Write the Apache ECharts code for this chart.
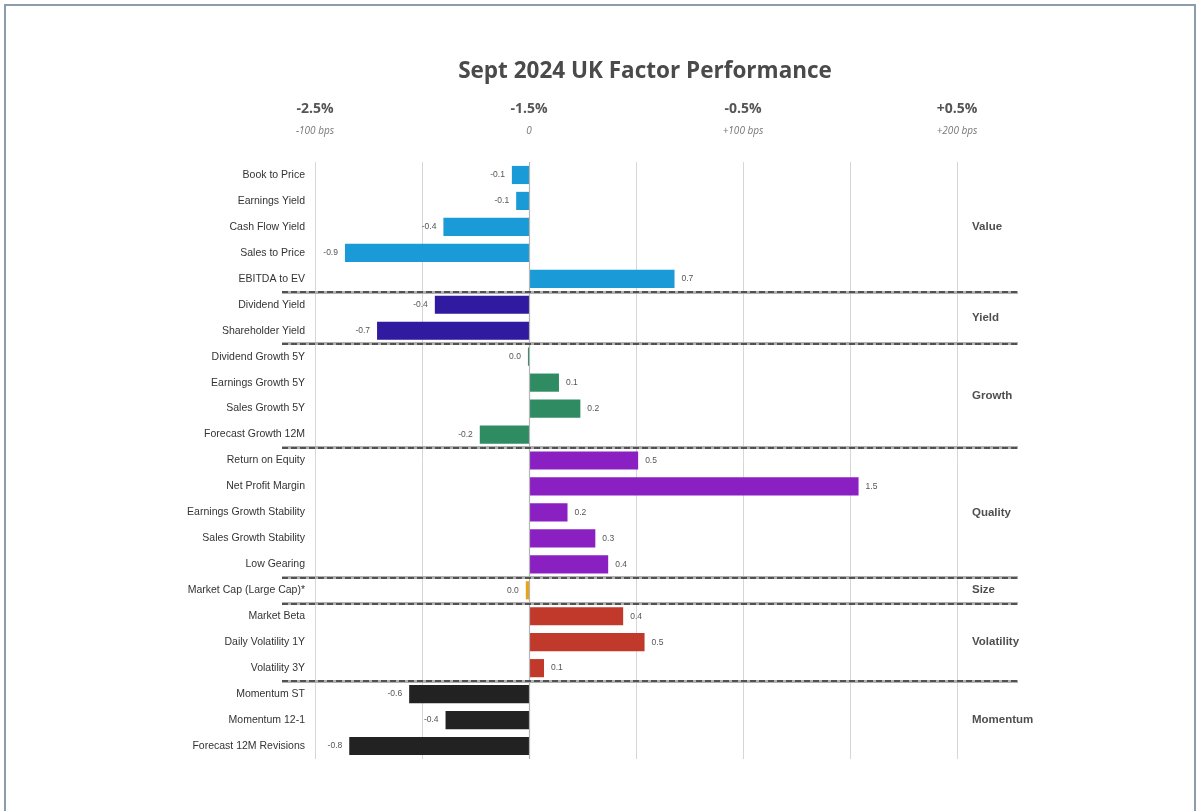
<!DOCTYPE html>
<html>
<head>
<meta charset="utf-8">
<script src="https://cdn.jsdelivr.net/npm/echarts@6/dist/echarts.min.js"></script>
<style>
  html, body { margin: 0; padding: 0; background: #fff; }
  #chart { position: absolute; left: 0; top: 0; width: 1200px; height: 811px; }
  #frame { position: absolute; left: 4px; top: 4px; width: 1188px; height: 830px;
           border: 2px solid #8d9caa; border-bottom: none; pointer-events: none; }
</style>
</head>
<body>
<div id="chart"></div>
<div id="frame"></div>
<script>
// ---- data ----
const categories = [
  'Book to Price', 'Earnings Yield', 'Cash Flow Yield', 'Sales to Price', 'EBITDA to EV',
  'Dividend Yield', 'Shareholder Yield',
  'Dividend Growth 5Y', 'Earnings Growth 5Y', 'Sales Growth 5Y', 'Forecast Growth 12M',
  'Return on Equity', 'Net Profit Margin', 'Earnings Growth Stability', 'Sales Growth Stability', 'Low Gearing',
  'Market Cap (Large Cap)*',
  'Market Beta', 'Daily Volatility 1Y', 'Volatility 3Y',
  'Momentum ST', 'Momentum 12-1', 'Forecast 12M Revisions'
];
const values = [
  -0.08, -0.06, -0.40, -0.86, 0.68,
  -0.44, -0.71,
  -0.005, 0.14, 0.24, -0.23,
  0.51, 1.54, 0.18, 0.31, 0.37,
  -0.015,
  0.44, 0.54, 0.07,
  -0.56, -0.39, -0.84
];
const groupNames = ['Value', 'Yield', 'Growth', 'Quality', 'Size', 'Volatility', 'Momentum'];
const groupSizes = [5, 2, 4, 5, 1, 3, 3];
const groupColors = ['#1a9ad6', '#2f1aa0', '#2e8b62', '#8a20c2', '#e8a317', '#c0392b', '#222222'];
const topTickLabels = {
  '-1': ['-2.5%', '-100 bps'],
  '0': ['-1.5%', '0'],
  '1': ['-0.5%', '+100 bps'],
  '2': ['+0.5%', '+200 bps']
};

// ---- derived ----
const groupOfRow = [];
const boundaries = [];
const groupMids = [];
let start = 0;
groupSizes.forEach((n, g) => {
  for (let i = 0; i < n; i++) groupOfRow.push(g);
  groupMids.push(start + (n - 1) / 2);
  start += n;
  if (g < groupSizes.length - 1) boundaries.push(start - 0.5);
});

const barData = values.map((v, i) => ({
  value: v,
  itemStyle: { color: groupColors[groupOfRow[i]] },
  label: { position: v < 0 ? 'left' : 'right' }
}));

const fmt = v => (Math.abs(v) < 0.05 ? '0.0' : v.toFixed(1));

const chart = echarts.init(document.getElementById('chart'), null, { renderer: 'canvas' });
chart.setOption({
  animation: false,
  backgroundColor: '#ffffff',
  title: {
    text: 'Sept 2024 UK Factor Performance',
    left: 640, top: 55, textAlign: 'center',
    textStyle: { fontFamily: 'Open Sans', fontSize: 22.5, fontWeight: 'bold', color: '#4a4a4a' }
  },
  grid: [
    { left: 315, right: 243, top: 162, bottom: 52 },
    { left: 282, right: 182, top: 162, bottom: 52 }
  ],
  xAxis: [
    {
      type: 'value', gridIndex: 0, min: -1, max: 2, interval: 0.5,
      axisLine: { show: false }, axisTick: { show: false }, axisLabel: { show: false },
      splitLine: { show: true, lineStyle: { color: '#d6d6d6', width: 1 } }
    },
    {
      type: 'value', gridIndex: 0, position: 'top', min: -1, max: 2, interval: 1,
      axisLine: { show: false }, axisTick: { show: false }, splitLine: { show: false },
      axisLabel: {
        margin: 22,
        formatter: v => {
          const t = topTickLabels[String(Math.round(v))];
          return t ? '{a|' + t[0] + '}\n{b|' + t[1] + '}' : '';
        },
        rich: {
          a: { fontFamily: 'Open Sans', fontSize: 14, fontWeight: 'bold', color: '#555', lineHeight: 26, align: 'center' },
          b: { fontFamily: 'Open Sans', fontSize: 10, fontStyle: 'italic', color: '#777', lineHeight: 18, align: 'center' }
        }
      }
    },
    { type: 'value', gridIndex: 1, min: 0, max: 1, show: false }
  ],
  yAxis: [
    {
      type: 'category', gridIndex: 0, data: categories, inverse: true,
      axisLine: { show: false, onZero: false }, axisTick: { show: false },
      axisLabel: { margin: 10, fontFamily: 'Liberation Sans', fontSize: 10.5, color: '#333' }
    },
    { type: 'value', gridIndex: 1, min: -0.5, max: categories.length - 0.5, inverse: true, show: false }
  ],
  series: [
    {
      type: 'bar', xAxisIndex: 0, yAxisIndex: 0, barWidth: '70%',
      data: barData,
      label: {
        show: true, distance: 7, fontFamily: 'Liberation Sans', fontSize: 8.5, color: '#555',
        formatter: p => fmt(p.value)
      },
      markLine: {
        silent: true, symbol: 'none', label: { show: false },
        lineStyle: { color: '#b5b5b5', type: 'solid', width: 1.2 },
        data: [{ xAxis: 0 }]
      }
    },
    {
      type: 'scatter', xAxisIndex: 2, yAxisIndex: 1, symbolSize: 0, silent: true,
      data: groupNames.map((n, g) => ({ value: [0.9375, groupMids[g]], name: n })),
      label: {
        show: true, position: 'right', distance: 0, formatter: p => p.name,
        fontFamily: 'Liberation Sans', fontSize: 11.5, fontWeight: 'bold', color: '#222'
      },
      markLine: {
        silent: true, symbol: 'none', label: { show: false },
        lineStyle: { color: '#b0b0b0', type: 'solid', width: 3 },
        data: boundaries.map(b => ({ yAxis: b }))
      }
    },
    {
      type: 'scatter', xAxisIndex: 2, yAxisIndex: 1, symbolSize: 0, silent: true, data: [],
      markLine: {
        silent: true, symbol: 'none', label: { show: false },
        lineStyle: { color: '#333', type: [6, 3], width: 1.5 },
        data: boundaries.map(b => ({ yAxis: b }))
      }
    }
  ]
});
</script>
</body>
</html>
